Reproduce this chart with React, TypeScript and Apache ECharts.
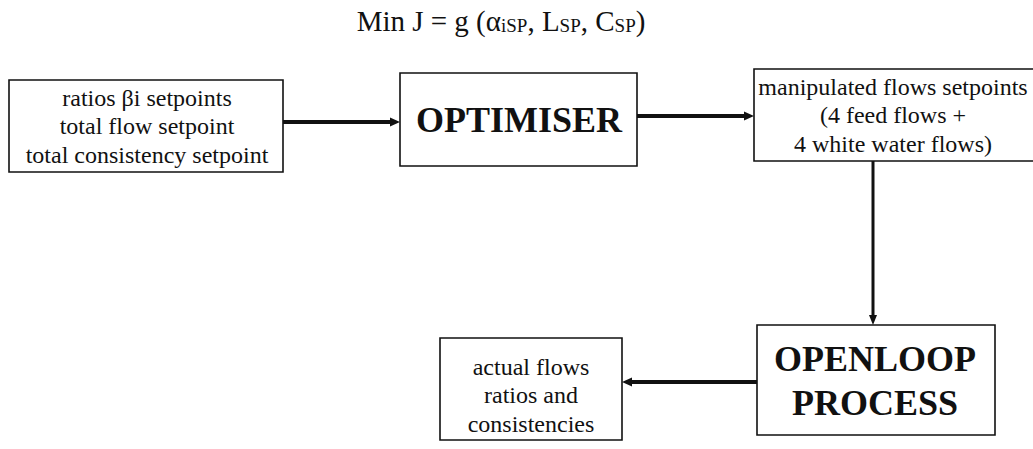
import React, { useEffect, useRef } from "react";
import * as echarts from "echarts";

// Diagram content
const titleParts = ["Min J = g (α", "iSP", ", L", "SP", ", C", "SP", ")"];
const inputLines = ["ratios βi setpoints", "total flow setpoint", "total consistency setpoint"];
const optimiserLabel = ["OPTIMISER"];
const setpointLines = ["manipulated flows setpoints", "(4 feed flows +", "4 white water flows)"];
const processLines = ["OPENLOOP", "PROCESS"];
const outputLines = ["actual flows", "ratios and", "consistencies"];

// Layout (boxes: x1, y1, x2, y2)
const boxInput = [9, 80, 283, 172];
const boxOpt = [400, 73, 637, 166];
const boxSet = [754, 69, 1040, 161];
const boxProc = [757, 325, 995, 435];
const boxOut = [440, 338, 622, 440];

const INK = "#111111";
const SERIF = "Liberation Serif";

function rect(b: number[], lw = 1.6) {
  return {
    type: "rect",
    shape: { x: b[0], y: b[1], width: b[2] - b[0], height: b[3] - b[1] },
    style: { fill: "#fff", stroke: INK, lineWidth: lw },
  };
}

function label(lines: string[], cx: number, cy: number, size: number, lh: number, bold = false) {
  return {
    type: "text",
    x: cx,
    y: cy,
    z: 10,
    style: {
      text: lines.join("\n"),
      fill: INK,
      fontFamily: SERIF,
      fontSize: size,
      fontWeight: bold ? "bold" : "normal",
      lineHeight: lh,
      align: "center",
      verticalAlign: "middle",
    },
  };
}

function hArrow(x1: number, x2: number, y: number, lw: number) {
  const dir = x2 > x1 ? 1 : -1;
  const head = 10;
  return [
    {
      type: "line",
      shape: { x1, y1: y, x2: x2 - dir * head, y2: y },
      style: { stroke: INK, lineWidth: lw },
    },
    {
      type: "polygon",
      shape: { points: [[x2, y], [x2 - dir * head, y - 4.5], [x2 - dir * head, y + 4.5]] },
      style: { fill: INK },
    },
  ];
}

function vArrow(x: number, y1: number, y2: number, lw: number) {
  const head = 10;
  return [
    {
      type: "line",
      shape: { x1: x, y1, x2: x, y2: y2 - head },
      style: { stroke: INK, lineWidth: lw },
    },
    {
      type: "polygon",
      shape: { points: [[x, y2], [x - 4, y2 - head], [x + 4, y2 - head]] },
      style: { fill: INK },
    },
  ];
}

export default function App() {
  const ref = useRef<HTMLDivElement>(null);
  useEffect(() => {
    if (!ref.current) return;
    const chart = echarts.init(ref.current, null, { renderer: "svg" });
    const titleText = titleParts
      .map((p, i) => (i % 2 === 0 ? `{m|${p}}` : `{s|${p}}`))
      .join("");
    chart.setOption({
      animation: false,
      backgroundColor: "#fff",
      graphic: [
        {
          type: "text",
          x: 501,
          y: 18,
          style: {
            text: titleText,
            align: "center",
            verticalAlign: "middle",
            fill: INK,
            fontFamily: SERIF,
            fontSize: 29,
            rich: {
              m: { fontFamily: SERIF, fontSize: 29, lineHeight: 34, verticalAlign: "bottom", fill: INK },
              s: { fontFamily: SERIF, fontSize: 19, lineHeight: 11, verticalAlign: "bottom", fill: INK },
            },
          },
        },
        rect(boxInput),
        rect(boxOpt),
        rect(boxSet),
        rect(boxProc),
        rect(boxOut),
        label(inputLines, 147, 126, 24, 28.5),
        label(optimiserLabel, 519, 120, 36, 40, true),
        label(setpointLines, 893, 115, 24, 28.5),
        label(processLines, 875, 381, 36, 44, true),
        label(outputLines, 531, 395, 24, 28.5),
        ...hArrow(283, 400, 122, 4),
        ...hArrow(637, 754, 116, 4),
        ...vArrow(873, 161, 325, 3),
        ...hArrow(757, 622, 382, 4),
      ],
    });
    return () => chart.dispose();
  }, []);
  return (
    <div
      ref={ref}
      style={{ position: "fixed", left: 0, top: 0, width: 1033, height: 449, background: "#fff" }}
    />
  );
}
